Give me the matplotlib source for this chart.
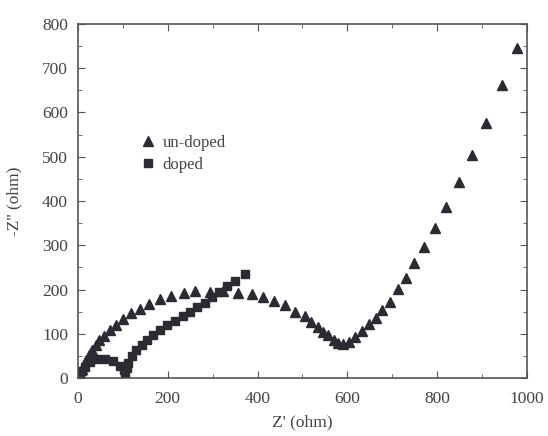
import matplotlib.pyplot as plt
from matplotlib.ticker import MultipleLocator

# un-doped sample (triangles)
undoped_re = [2, 5, 9, 14, 19, 25, 32, 40, 48, 58, 71, 86, 100, 118, 138, 159, 184, 207,
              236, 261, 294, 324, 357, 387, 413, 437, 461, 483, 506, 520, 535, 546, 557,
              569, 580, 591, 603, 617, 632, 649, 664, 678, 695, 713, 730, 749, 771, 795,
              820, 848, 877, 908, 945, 977]
undoped_im = [3, 10, 20, 30, 40, 52, 63, 75, 86, 96, 108, 120, 134, 147, 157, 167, 178, 185,
              193, 196, 195, 197, 193, 190, 184, 174, 165, 150, 139, 127, 116, 105, 97,
              86, 78, 77, 82, 93, 106, 122, 135, 153, 172, 201, 226, 259, 296, 338,
              386, 443, 505, 577, 662, 746]

# doped sample (squares)
doped_re = [1, 4, 9, 16, 27, 42, 60, 79, 94, 102, 106, 109, 112, 120, 129, 142, 154, 168,
            183, 199, 216, 233, 249, 266, 283, 298, 315, 331, 350, 372]
doped_im = [2, 8, 15, 25, 36, 43, 44, 38, 27, 17, 12, 22, 35, 50, 63, 75, 86, 97,
            108, 120, 129, 140, 150, 160, 170, 184, 195, 207, 219, 235]

plt.rcParams["font.family"] = ["Liberation Serif", "DejaVu Serif"]

fig = plt.figure(figsize=(5.48, 4.36), dpi=100)
ax = fig.add_axes([0.142, 0.133, 0.82, 0.812])

mark_color = "#2b2b33"
ax.plot(undoped_re, undoped_im, linestyle="none", marker="^", ms=6.5,
        color=mark_color, label="un-doped")
ax.plot(doped_re, doped_im, linestyle="none", marker="s", ms=5.2,
        color=mark_color, label="doped")

ax.set_xlim(0, 1000)
ax.set_ylim(0, 800)
ax.xaxis.set_major_locator(MultipleLocator(200))
ax.xaxis.set_minor_locator(MultipleLocator(100))
ax.yaxis.set_major_locator(MultipleLocator(100))
ax.yaxis.set_minor_locator(MultipleLocator(50))
ax.tick_params(which="both", direction="in", top=True, right=True,
               colors="#555555", labelcolor="#444444", labelsize=12.5)
ax.tick_params(which="major", length=5)
ax.tick_params(which="minor", length=3)
ax.tick_params(axis="x", which="major", pad=9)
ax.tick_params(axis="y", which="major", pad=7)
for spine in ax.spines.values():
    spine.set_color("#555555")
    spine.set_linewidth(1.2)

ax.set_xlabel("Z' (ohm)", fontsize=12.5, color="#444444", labelpad=6)
ax.set_ylabel("-Z'' (ohm)", fontsize=12.5, color="#444444", labelpad=14)

ax.legend(loc="upper left", bbox_to_anchor=(0.10, 0.728), frameon=False, fontsize=12,
          handletextpad=0.3, labelspacing=0.35, handlelength=1.2, labelcolor="#444444")

fig.savefig("out.png", dpi=100)
